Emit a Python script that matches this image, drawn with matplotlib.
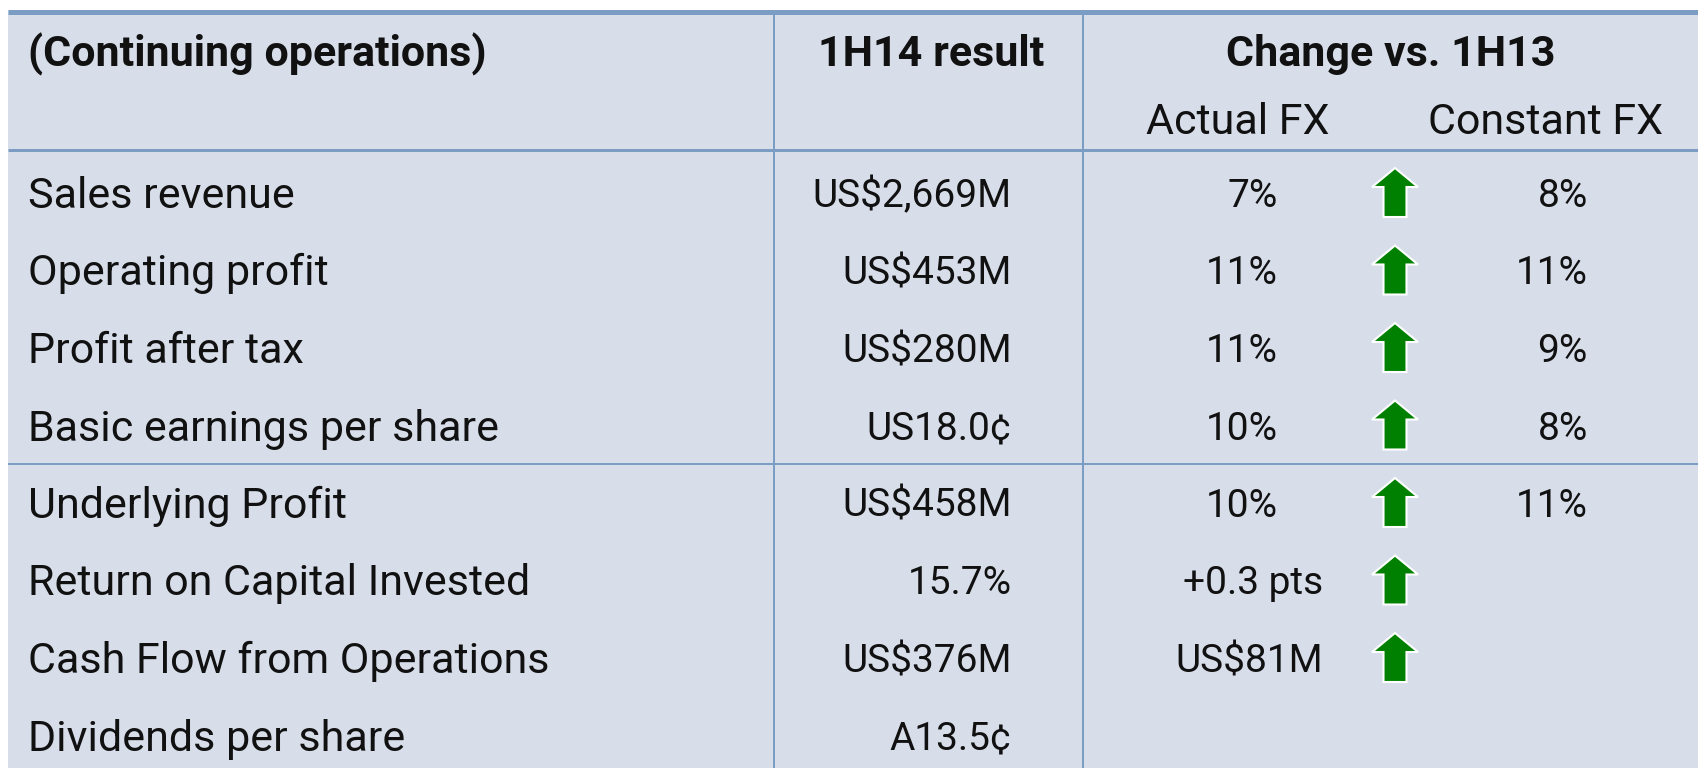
import matplotlib
matplotlib.use("Agg")
import matplotlib.pyplot as plt
from matplotlib.patches import Polygon, Rectangle

# ---- data ----
header_label = "(Continuing operations)"
header_result = "1H14 result"
header_change = "Change vs. 1H13"
sub_actual = "Actual FX"
sub_constant = "Constant FX"

metrics = ["Sales revenue", "Operating profit", "Profit after tax",
           "Basic earnings per share", "Underlying Profit",
           "Return on Capital Invested", "Cash Flow from Operations",
           "Dividends per share"]
results = ["US$2,669M", "US$453M", "US$280M", "US18.0¢", "US$458M",
           "15.7%", "US$376M", "A13.5¢"]
actual_fx = ["7%", "11%", "11%", "10%", "10%", "+0.3 pts", "US$81M", ""]
constant_fx = ["8%", "11%", "9%", "8%", "11%", "", "", ""]
up_arrow = [True, True, True, True, True, True, True, False]

# ---- style ----
W, H = 1698, 768
BG = "#D7DEEA"
LINE = "#7B9DC3"
FONT = "Roboto"
FS = 31
FSN = 28

fig = plt.figure(figsize=(W / 100, H / 100), dpi=100)
ax = fig.add_axes([0, 0, 1, 1])
ax.set_xlim(0, W)
ax.set_ylim(H, 0)
ax.axis("off")

ax.add_patch(Rectangle((8, 11), W - 8, H - 11, facecolor=BG, edgecolor="none"))
# lines
ax.plot([8, W], [11.5, 11.5], color=LINE, lw=5 * 0.72, solid_capstyle="butt")
ax.plot([8, W], [150, 150], color=LINE, lw=3 * 0.72, solid_capstyle="butt")
ax.plot([8, W], [463.5, 463.5], color=LINE, lw=2 * 0.72, solid_capstyle="butt")
for xv in (774.5, 1083.5):
    ax.plot([xv, xv], [14, H], color=LINE, lw=2 * 0.72, solid_capstyle="butt")

txt = dict(fontfamily=FONT, fontsize=FS, color="#111111")
num = dict(fontfamily=FONT, fontsize=FSN, color="#111111")
CAP = 15  # half cap height in px
CAPN = 14

# header
ax.text(28, 51 + CAP, header_label, ha="left", va="baseline", fontweight="bold", **txt)
ax.text(931, 51 + CAP, header_result, ha="center", va="baseline", fontweight="bold", **txt)
ax.text(1391, 51 + CAP, header_change, ha="center", va="baseline", fontweight="bold", **txt)
ax.text(1238, 119 + CAP, sub_actual, ha="center", va="baseline", **txt)
ax.text(1546, 119 + CAP, sub_constant, ha="center", va="baseline", **txt)

def arrow(cx, cy):
    hw, sw, top, neck, bot = 23, 11.5, -25, -6, 24
    pts = [(cx, cy + top), (cx + hw, cy + neck), (cx + sw, cy + neck),
           (cx + sw, cy + bot), (cx - sw, cy + bot), (cx - sw, cy + neck),
           (cx - hw, cy + neck)]
    ax.add_patch(Polygon(pts, closed=True, facecolor="#008000",
                         edgecolor="white", lw=1.5, joinstyle="miter"))

y0, step = 193, 77.5
for i, name in enumerate(metrics):
    y = y0 + i * step
    ax.text(28, y + CAP, name, ha="left", va="baseline", **txt)
    ax.text(1012, y + CAPN, results[i], ha="right", va="baseline", **num)
    a = actual_fx[i]
    if a:
        xr = 1278 if a.endswith("%") else 1323
        ax.text(xr, y + CAPN, a, ha="right", va="baseline", **num)
    if constant_fx[i]:
        ax.text(1588, y + CAPN, constant_fx[i], ha="right", va="baseline", **num)
    if up_arrow[i]:
        arrow(1395, y)

fig.savefig("out.png", dpi=100)
